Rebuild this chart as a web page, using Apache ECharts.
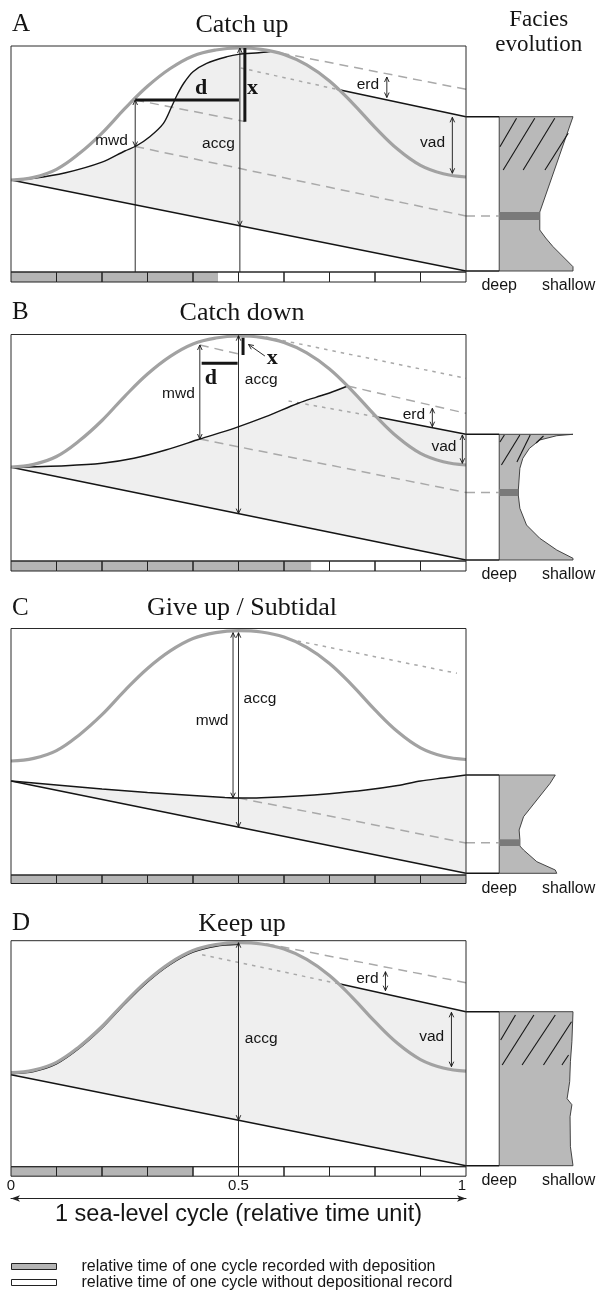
<!DOCTYPE html>
<html>
<head>
<meta charset="utf-8">
<title>Sediment response to one sea-level cycle</title>
<script src="https://cdn.jsdelivr.net/npm/echarts@6.0.0/dist/echarts.min.js"></script>
<style>
html,body{margin:0;padding:0;background:#fff;}
#chart{width:597px;height:1293px;}
</style>
</head>
<body>
<div id="chart"></div>
<script>
// ---------- shared scales ----------
const CYCLE_T = [0,0.05,0.1,0.15,0.2,0.25,0.3,0.35,0.4,0.45,0.5,0.55,0.6,0.65,0.7,0.75,0.8,0.85,0.9,0.95,1];
const TIME_SEGMENTS = [0,0.1,0.2,0.3,0.4,0.5,0.6,0.7,0.8,0.9,1];
const CYCLE_TICKS = [0,0.5,1];
const CYCLE_TICK_LABELS = ['0','0.5','1'];
const FACIES_TICKS = [0,0.94];
const FACIES_TICK_LABELS = ['deep','shallow'];
const RECORDED = 'relative time of one cycle recorded with deposition';
const UNRECORDED = 'relative time of one cycle without depositional record';
const PANEL_LETTERS = ['A','B','C','D'];
const PANEL_TITLES = ['Catch up','Catch down','Give up / Subtidal','Keep up'];

// ---------- A: catch up ----------
const SEA_A = [92,94.6,102.6,118.4,138.9,163.3,185.7,203.5,216.1,222,224,222.7,217.6,207.2,191.1,169.2,144.7,122.7,106.6,98.2,95];
const BASE_A = [[0,92],[1,1]];
const SED_A = [[0,92],[0.05,93.7],[0.12,99.2],[0.2,109.8],[0.25,121],[0.275,126],[0.305,135.3],[0.335,148.7],[0.353,165.3],[0.365,177],[0.38,189],[0.4,200.3],[0.43,208.7],[0.475,215.3],[0.5,217.6],[0.545,219.3],[0.57,220.5]];
const SURF_A = [[0.716,182.7],[1,155.3]];
const DASH_A = [[[0.56,222],[1,182.7]],[[0.273,172],[0.514,150.5]],[[0.273,125.5],[1,56]]];
const DOT_A = [[[0.505,204],[0.716,182.7]]];
const ARROWS_A = [[0.273,172,125.5,1],[0.503,224,46.2,1],[0.826,195,174.5,0],[0.97,154.7,98.7,0]];
const BARS_A = [[[0.514,224],[0.514,150.3]],[[0.273,172],[0.501,172]]];
const LABELS_A = [['mwd',0.257,131.3,'right',0],['accg',0.492,128,'right',0],['erd',0.809,187,'right',0],['vad',0.954,129,'right',0],['d',0.418,184,'center',1],['x',0.531,184,'center',1]];
const FACIES_A = [[1,155.3],[0.55,60],[0.55,42],[0.63,34],[0.73,25.3],[0.91,12],[1,5.3],[1,1]];
const BAND_A = [0.55,52,60];
const LINK_A = 56;
const HATCH_A = [[[0.01,125.3],[0.235,153.7]],[[0.054,102],[0.482,153.7]],[[0.325,102],[0.753,153.7]],[[0.62,102],[0.935,138.7]]];
const REC_A = 0.455;

// ---------- B: catch down ----------
const SEA_B = [94,96.6,104.5,120.2,140.5,164.7,187,204.7,217.1,223,225,223.7,218.6,208.2,192.1,170.2,145.7,123.7,107.6,99.2,96];
const BASE_B = [[0,93.7],[1,1]];
const SED_B = [[0,93.7],[0.12,95.3],[0.2,97.7],[0.27,102.7],[0.34,111],[0.415,122],[0.49,132.7],[0.56,144.3],[0.63,157.5],[0.67,163.7],[0.7,168],[0.74,175]];
const SURF_B = [[0.805,144],[1,126.7]];
const DASH_B = [[[0.74,175],[1,147.7]],[[0.415,216],[0.51,206]],[[0.415,122],[1,68.5]]];
const DOT_B = [[[0.61,160],[0.805,144]],[[0.56,224],[1,182.7]]];
const ARROWS_B = [[0.415,216,122,0],[0.5,225.3,47.4,0],[0.926,152.7,134.3,0],[0.992,126,97.7,0]];
const POINTER_B = [[0.558,205],[0.522,216.5]];
const BARS_B = [[[0.51,223.3],[0.51,206]],[[0.419,197.7],[0.498,197.7]]];
const LABELS_B = [['mwd',0.404,167.7,'right',0],['accg',0.514,181,'left',0],['d',0.439,182.5,'center',1],['x',0.574,203,'center',1],['erd',0.91,146,'right',0],['vad',0.979,114.3,'right',0]];
const FACIES_B = [[1,126.7],[0.78,125.3],[0.55,121],[0.41,112.7],[0.32,102.7],[0.28,92.7],[0.26,72],[0.26,65],[0.28,52.7],[0.37,36],[0.55,22.7],[0.78,11],[1,2.7],[1,1]];
const BAND_B = [0.26,65,72];
const LINK_B = 68.5;
const HATCH_B = [[[0.01,119],[0.07,126]],[[0.03,96],[0.28,126]],[[0.24,99],[0.42,126]],[[0.5,118],[0.6,125]]];
const REC_B = 0.66;

// ---------- C: give up / subtidal ----------
const SEA_C = [114,116.6,124.4,140.1,160.3,184.4,206.5,224.1,236.5,242.4,244.3,243,237.9,227.6,211.5,189.6,165.1,143.2,127.1,118.7,115.5];
const BASE_C = [[0,94],[1,1.7]];
const SED_C = [[0,94],[0.1,90],[0.2,86],[0.3,82.5],[0.4,79.5],[0.47,77.5],[0.5,77],[0.55,77.3],[0.63,79],[0.7,81.3],[0.78,85],[0.85,89.5],[0.9,94],[0.95,97],[1,100]];
const DASH_C = [[[0.5,77],[1,32]]];
const DOT_C = [[[0.63,234],[0.98,201.7]]];
const ARROWS_C = [[0.488,242.3,77.3,0],[0.5,242.3,47.9,0]];
const LABELS_C = [['mwd',0.478,154.3,'right',0],['accg',0.511,176,'left',0]];
const FACIES_C = [[0.76,100],[0.69,91.7],[0.51,75],[0.33,58.3],[0.27,45],[0.28,35.7],[0.28,29],[0.33,25],[0.51,13.3],[0.76,5],[0.78,1.7]];
const BAND_C = [0.28,29,35.7];
const LINK_C = 32.3;
const REC_C = 1;

// ---------- D: keep up ----------
const SEA_D = [94,96.6,104.4,120,140.2,164.2,186.3,203.9,216.2,222.1,224,222.7,217.6,207.3,191.2,169.4,145,123.1,107.1,98.7,95.5];
const BASE_D = [[0,92],[1,1]];
const SED_D = [[0,93],[0.05,95.2],[0.1,102.8],[0.15,118.4],[0.2,138.6],[0.25,162.6],[0.3,184.7],[0.35,202.3],[0.4,214.6],[0.45,220.5],[0.5,222.4]];
const SURF_D = [[0.716,183.4],[1,155]];
const DASH_D = [[[0.56,223],[1,184]]];
const DOT_D = [[[0.42,212],[0.716,183.4]]];
const ARROWS_D = [[0.5,224,46.5,1],[0.823,195,176,0],[0.968,154.4,100,0]];
const LABELS_D = [['accg',0.514,128.4,'left',0],['erd',0.808,187.7,'right',0],['vad',0.952,130,'right',0]];
const FACIES_D = [[1,155],[0.985,125],[0.965,105],[0.955,85],[0.92,68],[0.985,62],[0.96,50],[0.965,20],[1,1]];
const HATCH_D = [[[0.02,126.7],[0.22,151.7]],[[0.04,101.7],[0.47,151.7]],[[0.31,101.7],[0.76,151.7]],[[0.6,101.7],[0.98,145]],[[0.85,101.7],[0.94,111.7]]];
const REC_D = 0.4;

// ---------- page layout (pixels) ----------
const LAYOUT = [
  {top:46, height:226, bar:10, letterTop:12, titleTop:12},
  {top:334.5, height:226.5, bar:10, letterTop:300, titleTop:300},
  {top:628.5, height:246.5, bar:8.5, letterTop:596, titleTop:595},
  {top:940.7, height:226, bar:9.5, letterTop:911, titleTop:911}
];
const BOX_LEFT = 11, BOX_WIDTH = 455, FACIES_LEFT = 466, FACIES_WIDTH = 107, GAP_MIN = -0.45;
const SANS = 'Liberation Sans', SERIF = 'Liberation Serif';
const C_SEA = '#a2a2a2', C_DASH = '#a9a9a9', C_FILL = '#efefef', C_COL = '#b9b9b9', C_BAND = '#7a7a7a', C_BAR = '#b5b5b5', INK = '#151515';

const PANELS = [
  {sea:SEA_A, base:BASE_A, sed:SED_A, surf:SURF_A, dash:DASH_A, dot:DOT_A, arrows:ARROWS_A, bars:BARS_A, pointer:null, labels:LABELS_A, facies:FACIES_A, band:BAND_A, link:LINK_A, hatch:HATCH_A, rec:REC_A},
  {sea:SEA_B, base:BASE_B, sed:SED_B, surf:SURF_B, dash:DASH_B, dot:DOT_B, arrows:ARROWS_B, bars:BARS_B, pointer:POINTER_B, labels:LABELS_B, facies:FACIES_B, band:BAND_B, link:LINK_B, hatch:HATCH_B, rec:REC_B},
  {sea:SEA_C, base:BASE_C, sed:SED_C, surf:null, dash:DASH_C, dot:DOT_C, arrows:ARROWS_C, bars:[], pointer:null, labels:LABELS_C, facies:FACIES_C, band:BAND_C, link:LINK_C, hatch:[], rec:REC_C},
  {sea:SEA_D, base:BASE_D, sed:SED_D, surf:SURF_D, dash:DASH_D, dot:DOT_D, arrows:ARROWS_D, bars:[], pointer:null, labels:LABELS_D, facies:FACIES_D, band:null, link:null, hatch:HATCH_D, rec:REC_D}
];

// ---------- helpers ----------
function lineSeries(g, pts, color, width, dash, z, smooth) {
  const s = {type:'line', xAxisIndex:g, yAxisIndex:g, data:pts, symbol:'none', silent:true, clip:false, z:z,
    lineStyle:{color:color, width:width, type:dash || 'solid'}};
  if (smooth) s.smooth = smooth;
  return s;
}
function drawSeries(g, z, build) {
  return {type:'custom', xAxisIndex:g, yAxisIndex:g, z:z, silent:true, clip:false, data:[[0,0]],
    renderItem:function(params, api){ return build(api); }};
}
function seg(a, b, stroke, w, dash) {
  return {type:'line', shape:{x1:a[0], y1:a[1], x2:b[0], y2:b[1]}, style:{stroke:stroke, lineWidth:w, lineDash:dash || null}};
}
function head(tip, dx, dy) {
  const L = 5, W = 2.3;
  const bx = tip[0] - dx * L, by = tip[1] - dy * L;
  return {type:'polyline', shape:{points:[[bx - dy * W, by + dx * W],[tip[0], tip[1]],[bx + dy * W, by - dx * W]]},
    style:{stroke:INK, fill:null, lineWidth:0.9}};
}
function label(api, L) {
  const p = api.coord([L[1], L[2]]);
  const serif = L[4] === 1;
  return {type:'text', x:p[0], y:p[1], style:{text:L[0], fill:INK, fontFamily: serif ? SERIF : SANS,
    fontSize: serif ? 22 : 15.5, fontWeight: serif ? 'bold' : 'normal', align:L[3], verticalAlign:'middle'}};
}

// ---------- series ----------
const series = [];
PANELS.forEach(function(P, k) {
  const g = k, gb = 4 + k, gf = 8 + k;
  const H = LAYOUT[k].height;

  // deposited wedge: sediment top (plus eroded profile) down to the subsiding basement
  let top = P.sed.slice();
  if (P.surf) {
    const t0 = P.sed[P.sed.length - 1][0], t1 = P.surf[0][0];
    CYCLE_T.forEach(function(t, i){ if (t > t0 && t < t1) top.push([t, P.sea[i]]); });
    top = top.concat(P.surf);
  }
  const wedge = top.concat(P.base.slice().reverse());
  series.push(drawSeries(g, 1, function(api){
    return {type:'polygon', shape:{points: wedge.map(function(q){ return api.coord(q); })}, style:{fill:C_FILL}};
  }));

  P.dash.forEach(function(s){ series.push(lineSeries(g, s, C_DASH, 1.5, [9,6], 2)); });
  P.dot.forEach(function(s){ series.push(lineSeries(g, s, C_DASH, 1.5, [3.5,5], 2)); });
  series.push(lineSeries(g, P.base, INK, 1.5, 'solid', 3));
  series.push(lineSeries(g, P.sed, INK, 1.4, 'solid', 3, 0.3));
  if (P.surf) series.push(lineSeries(g, P.surf, INK, 1.5, 'solid', 3));
  series.push(lineSeries(g, CYCLE_T.map(function(t, i){ return [t, P.sea[i]]; }), C_SEA, 3.2, 'solid', 4, 0.4));
  P.bars.forEach(function(s){ series.push(lineSeries(g, s, INK, 3, 'solid', 5)); });

  // measurement arrows and their labels
  series.push(drawSeries(g, 6, function(api){
    const ch = [];
    P.arrows.forEach(function(a){
      const p1 = api.coord([a[0], a[1]]), p2 = api.coord([a[0], a[2]]);
      const yEnd = a[3] ? api.coord([a[0], 0])[1] : p2[1];
      ch.push(seg(p1, [p1[0], yEnd], INK, 0.9));
      ch.push(head(p1, 0, -1));
      ch.push(head(p2, 0, 1));
    });
    if (P.pointer) {
      const a = api.coord(P.pointer[0]), b = api.coord(P.pointer[1]);
      const dx = b[0] - a[0], dy = b[1] - a[1], n = Math.sqrt(dx * dx + dy * dy);
      ch.push(seg(a, b, INK, 0.9));
      ch.push(head(b, dx / n, dy / n));
    }
    P.labels.forEach(function(L){ ch.push(label(api, L)); });
    return {type:'group', children:ch};
  }));

  // panel frame
  series.push(drawSeries(g, 8, function(api){
    const a = api.coord([0, H]), b = api.coord([1, 0]);
    return {type:'rect', shape:{x:a[0], y:a[1], width:b[0] - a[0], height:b[1] - a[1]}, style:{fill:null, stroke:'#2a2a2a', lineWidth:1}};
  }));

  // time bar: recorded / unrecorded share of every tenth of the cycle
  const pairs = TIME_SEGMENTS.slice(0, -1).map(function(s, i){ return [s, TIME_SEGMENTS[i + 1]]; });
  [true, false].forEach(function(recorded){
    series.push({type:'custom', name: recorded ? RECORDED : UNRECORDED, xAxisIndex:gb, yAxisIndex:gb, z:3, silent:true, clip:false,
      itemStyle:{color: recorded ? C_BAR : '#ffffff', borderColor:'#222', borderWidth:1},
      data:pairs,
      renderItem:function(params, api){
        let s = api.value(0), e = api.value(1);
        if (recorded) { if (s >= P.rec) return; e = Math.min(e, P.rec); }
        else { if (e <= P.rec) return; s = Math.max(s, P.rec); }
        const a = api.coord([s, 1]), b = api.coord([e, 0]);
        return {type:'rect', shape:{x:a[0], y:a[1], width:b[0] - a[0], height:b[1] - a[1]}, style:{fill: recorded ? C_BAR : '#ffffff'}};
      }});
  });
  series.push({type:'custom', xAxisIndex:gb, yAxisIndex:gb, z:4, silent:true, clip:false, data:pairs,
    renderItem:function(params, api){
      const a = api.coord([api.value(0), 1]), b = api.coord([api.value(1), 0]);
      return {type:'rect', shape:{x:a[0], y:a[1], width:b[0] - a[0], height:b[1] - a[1]}, style:{fill:null, stroke:'#222', lineWidth:1}};
    }});

  // facies column
  series.push(drawSeries(gf, 3, function(api){
    const ch = [];
    const topV = P.facies[0][1], botV = P.facies[P.facies.length - 1][1];
    const outline = [[0, topV]].concat(P.facies, [[0, botV]]);
    ch.push({type:'polygon', shape:{points: outline.map(function(q){ return api.coord(q); })}, style:{fill:C_COL, stroke:'#333', lineWidth:0.9}});
    if (P.band) {
      const a = api.coord([0, P.band[2]]), b = api.coord([P.band[0], P.band[1]]);
      ch.push({type:'rect', shape:{x:a[0], y:a[1], width:b[0] - a[0], height:b[1] - a[1]}, style:{fill:C_BAND}});
    }
    P.hatch.forEach(function(h){ ch.push(seg(api.coord(h[0]), api.coord(h[1]), INK, 1.1)); });
    ch.push(seg(api.coord([GAP_MIN, topV]), api.coord([0, topV]), INK, 1.6));
    ch.push(seg(api.coord([GAP_MIN, botV]), api.coord([0, botV]), INK, 1.6));
    if (P.link !== null) ch.push(seg(api.coord([GAP_MIN, P.link]), api.coord([0, P.link]), C_DASH, 1.5, [9,6]));
    return {type:'group', children:ch};
  }));
});

// ---------- grids & axes ----------
const grids = [], xAxes = [], yAxes = [];
LAYOUT.forEach(function(L, k){
  grids[k] = {left:BOX_LEFT, top:L.top, width:BOX_WIDTH, height:L.height, outerBoundsMode:'none'};
  grids[4 + k] = {left:BOX_LEFT, top:L.top + L.height, width:BOX_WIDTH, height:L.bar, outerBoundsMode:'none'};
  grids[8 + k] = {left:FACIES_LEFT, top:L.top, width:FACIES_WIDTH, height:L.height, outerBoundsMode:'none'};
  xAxes[k] = {gridIndex:k, type:'value', min:0, max:1, show:false};
  yAxes[k] = {gridIndex:k, type:'value', min:0, max:L.height, show:false};
  xAxes[4 + k] = {gridIndex:4 + k, type:'value', min:0, max:1, show:false};
  yAxes[4 + k] = {gridIndex:4 + k, type:'value', min:0, max:1, show:false};
  xAxes[8 + k] = {gridIndex:8 + k, type:'value', min:GAP_MIN, max:1, show:true,
    axisLine:{show:false}, axisTick:{show:false}, splitLine:{show:false},
    axisLabel:{show:true, customValues:FACIES_TICKS, margin:6, fontFamily:SANS, fontSize:16, color:INK,
      formatter:function(v){ return FACIES_TICK_LABELS[FACIES_TICKS.indexOf(v)]; }}};
  yAxes[8 + k] = {gridIndex:8 + k, type:'value', min:0, max:L.height, show:false};
});
// cycle scale under the last panel
xAxes[7] = {gridIndex:7, type:'value', min:0, max:1, show:true,
  axisLine:{show:false}, axisTick:{show:false}, splitLine:{show:false},
  axisLabel:{show:true, customValues:CYCLE_TICKS, margin:2, fontFamily:SANS, fontSize:15, color:INK, alignMaxLabel:'right',
    formatter:function(v){ return CYCLE_TICK_LABELS[CYCLE_TICKS.indexOf(v)]; }}};
grids[12] = {left:BOX_LEFT, top:1197.5, width:BOX_WIDTH, height:1, outerBoundsMode:'none'};
xAxes[12] = {gridIndex:12, type:'value', min:0, max:1, show:true, position:'bottom',
  axisLine:{show:true, symbol:['arrow','arrow'], symbolSize:[5,9], lineStyle:{color:'#222', width:1}},
  axisTick:{show:false}, axisLabel:{show:false}, splitLine:{show:false},
  name:'1 sea-level cycle (relative time unit)', nameLocation:'middle', nameGap:4,
  nameTextStyle:{fontFamily:SANS, fontSize:23.5, color:INK}};
yAxes[12] = {gridIndex:12, type:'value', min:0, max:1, show:false};

// ---------- titles ----------
const titles = [{text:'Facies\nevolution', left:538.7, top:7, textAlign:'center', padding:0,
  textStyle:{fontFamily:SERIF, fontSize:23, fontWeight:'normal', color:INK, lineHeight:25}}];
LAYOUT.forEach(function(L, k){
  titles.push({text:PANEL_LETTERS[k], left:12, top:L.letterTop, padding:0,
    textStyle:{fontFamily:SERIF, fontSize:25, fontWeight:'normal', color:INK}});
  titles.push({text:PANEL_TITLES[k], left:242, top:L.titleTop, textAlign:'center', padding:0,
    textStyle:{fontFamily:SERIF, fontSize:26, fontWeight:'normal', color:INK}});
});

const chart = echarts.init(document.getElementById('chart'), null, {renderer:'canvas'});
chart.setOption({
  animation:false,
  backgroundColor:'#ffffff',
  title:titles,
  grid:grids, xAxis:xAxes, yAxis:yAxes,
  legend:{left:11, top:1258.5, orient:'vertical', padding:0, itemWidth:45, itemHeight:6, itemGap:0, selectedMode:false,
    textStyle:{fontFamily:SANS, fontSize:16, color:INK, lineHeight:12.5, padding:[0,0,0,20]},
    data:[{name:RECORDED, icon:'rect', itemStyle:{color:C_BAR, borderColor:'#222', borderWidth:1}},
          {name:UNRECORDED, icon:'rect', itemStyle:{color:'#ffffff', borderColor:'#222', borderWidth:1}}]},
  series:series
});
</script>
</body>
</html>
